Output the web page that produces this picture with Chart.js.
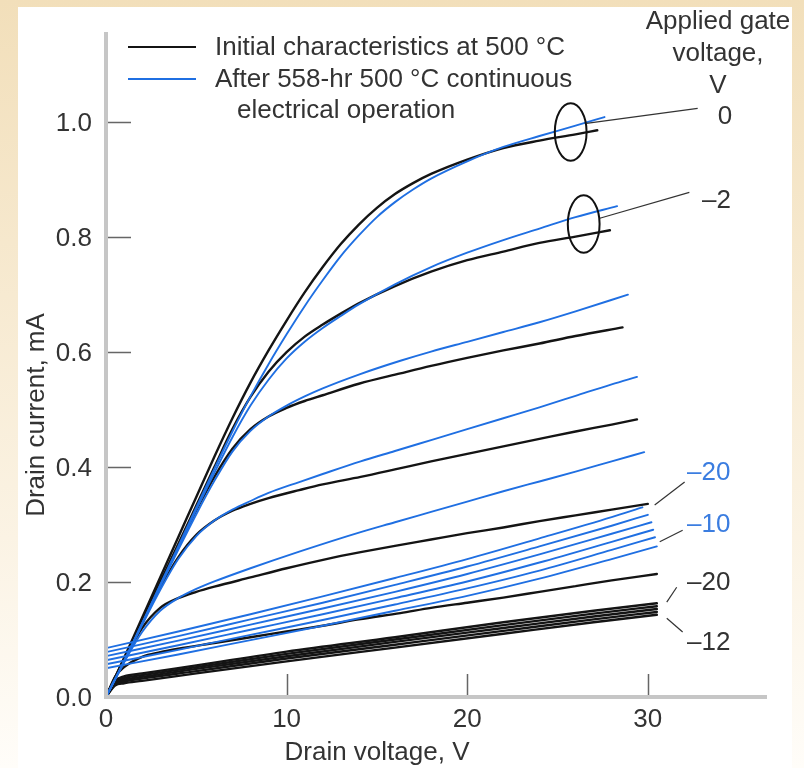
<!DOCTYPE html>
<html>
<head>
<meta charset="utf-8">
<script src="https://cdn.jsdelivr.net/npm/chart.js@4.4.0/dist/chart.umd.min.js"></script>
<style>
  html, body { margin: 0; padding: 0; background: #fff; }
  canvas { display: block; }
</style>
</head>
<body>
<canvas id="ivChart" width="804" height="768"></canvas>
<script>
// axis ticks
var xTicks = [0, 10, 20, 30];
var yTicks = [0, 0.2, 0.4, 0.6, 0.8, 1.0];

// Initial characteristics at 500 C (black) - drain voltage V / drain current mA
var initV0 = [0, 1, 2, 3, 4, 5, 6, 7, 8, 9, 10, 11, 12, 13, 14, 15, 16, 17, 18, 20, 22, 24, 26, 27.2];
var initI0 = [0, 0.068, 0.138, 0.208, 0.278, 0.348, 0.418, 0.485, 0.547, 0.603, 0.655, 0.704, 0.748, 0.788, 0.822, 0.851, 0.875, 0.894, 0.91, 0.935, 0.955, 0.968, 0.979, 0.986];
var initV2 = [0, 1, 2, 3, 4, 5, 6, 7, 8, 9, 10, 11, 12, 13, 14, 16, 18, 20, 22, 24, 26, 27.9];
var initI2 = [0, 0.066, 0.134, 0.2, 0.266, 0.333, 0.4, 0.466, 0.522, 0.566, 0.6, 0.627, 0.648, 0.667, 0.685, 0.715, 0.74, 0.76, 0.775, 0.79, 0.801, 0.812];
var initV4 = [0, 1, 2, 3, 4, 5, 6, 7, 8, 9, 10, 11, 12, 14, 16.3, 18, 20, 22, 24, 26, 28.6];
var initI4 = [0, 0.066, 0.132, 0.198, 0.262, 0.325, 0.383, 0.432, 0.466, 0.488, 0.503, 0.515, 0.525, 0.545, 0.563, 0.576, 0.59, 0.603, 0.615, 0.628, 0.643];
var initV6 = [0, 1, 2, 3, 4, 5, 6, 7, 8, 9, 10.7, 12, 14.1, 16, 18, 20, 22, 24, 26, 28, 29.4];
var initI6 = [0, 0.065, 0.13, 0.19, 0.243, 0.282, 0.307, 0.324, 0.336, 0.346, 0.36, 0.37, 0.383, 0.396, 0.41, 0.423, 0.436, 0.449, 0.462, 0.474, 0.483];
var initV8 = [0, 1, 2, 3, 4, 5, 6, 8, 10, 12.2, 14.1, 16, 18, 20, 22, 24, 26, 28, 30];
var initI8 = [0, 0.064, 0.12, 0.155, 0.172, 0.183, 0.192, 0.208, 0.224, 0.24, 0.252, 0.263, 0.274, 0.285, 0.295, 0.306, 0.316, 0.326, 0.336];
var initV10 = [0, 0.5, 1, 2, 3, 4, 6, 8, 10, 12, 14, 16.3, 18, 20, 22, 24, 26, 28, 30.5];
var initI10 = [0, 0.035, 0.052, 0.07, 0.078, 0.084, 0.094, 0.104, 0.114, 0.124, 0.135, 0.146, 0.155, 0.164, 0.173, 0.183, 0.193, 0.203, 0.214];
var lowV = [0, 0.5, 1, 2, 5, 10, 16, 22, 27, 30.5];
var initI12 = [0, 0.02, 0.024, 0.028, 0.041, 0.062, 0.086, 0.11, 0.13, 0.143];
var initI14 = [0, 0.022, 0.027, 0.032, 0.045, 0.067, 0.091, 0.115, 0.135, 0.148];
var initI16 = [0, 0.024, 0.03, 0.035, 0.049, 0.071, 0.096, 0.12, 0.14, 0.153];
var initI18 = [0, 0.026, 0.033, 0.038, 0.052, 0.075, 0.1, 0.125, 0.145, 0.158];
var initI20 = [0, 0.028, 0.036, 0.041, 0.055, 0.079, 0.104, 0.13, 0.15, 0.163];

// After 558-hr continuous operation (blue)
var postV0 = [0, 1, 2, 3, 4, 5, 6, 7, 8, 9, 10, 11, 12, 13, 14, 15, 16, 17, 18, 20, 22, 24, 26, 27.6];
var postI0 = [0, 0.062, 0.128, 0.195, 0.262, 0.33, 0.397, 0.462, 0.523, 0.579, 0.631, 0.68, 0.725, 0.767, 0.803, 0.835, 0.861, 0.883, 0.902, 0.932, 0.957, 0.976, 0.994, 1.009];
var postV2 = [0, 1, 2, 3, 4, 5, 6, 7, 8, 9, 10, 11, 12, 13, 14, 16, 18, 20, 22, 24, 26, 28.3];
var postI2 = [0, 0.062, 0.128, 0.194, 0.26, 0.326, 0.39, 0.452, 0.507, 0.552, 0.589, 0.618, 0.642, 0.663, 0.683, 0.718, 0.748, 0.773, 0.795, 0.815, 0.835, 0.854];
var postV4 = [0, 1, 2, 3, 4, 5, 6, 7, 8, 9, 10, 11, 12, 14, 16.3, 18, 20, 22, 24, 26, 28.9];
var postI4 = [0, 0.062, 0.127, 0.192, 0.256, 0.318, 0.376, 0.427, 0.463, 0.488, 0.507, 0.523, 0.537, 0.561, 0.585, 0.601, 0.618, 0.635, 0.652, 0.671, 0.7];
var postV6 = [0, 1, 2, 3, 4, 5, 6, 7, 8, 9, 10.7, 12, 14.1, 16, 18, 20, 22, 24, 26, 28, 29.4];
var postI6 = [0, 0.061, 0.125, 0.186, 0.24, 0.28, 0.307, 0.326, 0.341, 0.355, 0.374, 0.388, 0.41, 0.428, 0.447, 0.466, 0.485, 0.504, 0.524, 0.544, 0.557];
var postV8 = [0, 1, 2, 3, 4, 5, 6, 8, 10.7, 14.1, 16, 18, 20, 22, 24, 26, 28, 29.8];
var postI8 = [0, 0.06, 0.113, 0.15, 0.172, 0.188, 0.201, 0.224, 0.253, 0.287, 0.304, 0.322, 0.34, 0.358, 0.375, 0.392, 0.41, 0.426];
var postV20 = [0, 4, 8, 12, 16, 20, 24, 28, 29.7];
var postI20 = [0.085, 0.114, 0.144, 0.175, 0.207, 0.24, 0.276, 0.313, 0.33];
var postV18 = [0, 4, 8, 12, 16, 20, 24, 28, 30];
var postI18 = [0.078, 0.106, 0.135, 0.164, 0.195, 0.227, 0.262, 0.298, 0.317];
var postV16 = [0, 4, 8, 12, 16, 20, 24, 28, 30.2];
var postI16 = [0.071, 0.098, 0.126, 0.154, 0.183, 0.214, 0.248, 0.284, 0.304];
var postV14 = [0, 4, 8, 12, 16, 20, 24, 28, 30.3];
var postI14 = [0.064, 0.09, 0.117, 0.144, 0.172, 0.201, 0.234, 0.27, 0.291];
var postV12 = [0, 4, 8, 12, 16, 20, 24, 28, 30.4];
var postI12 = [0.057, 0.082, 0.108, 0.134, 0.161, 0.189, 0.22, 0.256, 0.278];
var postV10 = [0, 4, 8, 12, 16, 20, 24, 28, 30.5];
var postI10 = [0.05, 0.074, 0.099, 0.124, 0.15, 0.176, 0.206, 0.24, 0.262];

var BLACK = '#141414';
var BLUE = '#1f6fe2';
var TEXT = '#333333';
var FONT = '"Liberation Sans", Arial, sans-serif';

function pts(vs, is) {
  return vs.map(function (v, k) { return { x: v, y: is[k] }; });
}
function curve(vs, is, color, order) {
  return {
    data: pts(vs, is),
    borderColor: color,
    borderWidth: color === BLUE ? 1.9 : 2.4,
    pointRadius: 0,
    showLine: true,
    fill: false,
    cubicInterpolationMode: 'monotone',
    order: order
  };
}

var datasets = [
  curve(initV0, initI0, BLACK, 2), curve(initV2, initI2, BLACK, 2),
  curve(initV4, initI4, BLACK, 2), curve(initV6, initI6, BLACK, 2),
  curve(initV8, initI8, BLACK, 2), curve(initV10, initI10, BLACK, 2),
  curve(lowV, initI12, BLACK, 2), curve(lowV, initI14, BLACK, 2),
  curve(lowV, initI16, BLACK, 2), curve(lowV, initI18, BLACK, 2),
  curve(lowV, initI20, BLACK, 2),
  curve(postV0, postI0, BLUE, 1), curve(postV2, postI2, BLUE, 1),
  curve(postV4, postI4, BLUE, 1), curve(postV6, postI6, BLUE, 1),
  curve(postV8, postI8, BLUE, 1), curve(postV10, postI10, BLUE, 1),
  curve(postV12, postI12, BLUE, 1), curve(postV14, postI14, BLUE, 1),
  curve(postV16, postI16, BLUE, 1), curve(postV18, postI18, BLUE, 1),
  curve(postV20, postI20, BLUE, 1)
];

// annotation pointers, in data units [v1, i1, v2, i2]
var leaders = [
  [26.6, 0.998, 32.76, 1.024],
  [27.34, 0.833, 32.3, 0.878],
  [30.38, 0.334, 32.04, 0.374],
  [30.66, 0.27, 31.93, 0.29],
  [31.05, 0.165, 31.6, 0.191],
  [31.05, 0.137, 31.93, 0.113]
];
// ellipses [v, i, rv, ri]
var rings = [
  [25.73, 0.983, 0.88, 0.05],
  [26.45, 0.823, 0.88, 0.05]
];

var decor = {
  id: 'decor',
  beforeDraw: function (chart) {
    var c = chart.ctx, w = chart.width, h = chart.height;
    var g = c.createLinearGradient(0, 0, 0, h);
    g.addColorStop(0, '#f2dfba');
    g.addColorStop(0.7, '#fbf3e4');
    g.addColorStop(1, '#fffdf9');
    c.save();
    c.fillStyle = g;
    c.fillRect(0, 0, w, h);
    c.fillStyle = '#ffffff';
    c.fillRect(18, 7, 774, h - 7);
    c.restore();
  },
  afterDraw: function (chart) {
    var c = chart.ctx;
    var xs = chart.scales.x, ys = chart.scales.y;
    var a = chart.chartArea;
    c.save();
    // axes
    c.strokeStyle = '#c6c6c6';
    c.lineWidth = 4;
    c.beginPath();
    c.moveTo(a.left, a.top);
    c.lineTo(a.left, a.bottom);
    c.lineTo(a.right, a.bottom);
    c.stroke();
    // inward ticks
    c.strokeStyle = '#666';
    c.lineWidth = 1.5;
    c.beginPath();
    yTicks.forEach(function (t) {
      if (t === 0) return;
      var y = Math.round(ys.getPixelForValue(t)) + 0.5;
      c.moveTo(a.left + 2, y);
      c.lineTo(a.left + 25, y);
    });
    xTicks.forEach(function (t) {
      if (t === 0) return;
      var x = Math.round(xs.getPixelForValue(t)) + 0.5;
      c.moveTo(x, a.bottom - 2);
      c.lineTo(x, a.bottom - 23);
    });
    c.stroke();

    c.fillStyle = TEXT;
    c.font = '26px ' + FONT;
    c.textAlign = 'right';
    c.textBaseline = 'middle';
    yTicks.forEach(function (t) {
      c.fillText(t.toFixed(1), a.left - 14, ys.getPixelForValue(t) + 2);
    });
    c.textAlign = 'center';
    xTicks.forEach(function (t) {
      c.fillText(String(t), xs.getPixelForValue(t), a.bottom + 23);
    });
    c.fillText('Drain voltage, V', 377, 753);
    c.save();
    c.translate(37, 415);
    c.rotate(-Math.PI / 2);
    c.fillText('Drain current, mA', 0, 0);
    c.restore();

    // legend
    c.lineWidth = 2;
    c.strokeStyle = BLACK;
    c.beginPath(); c.moveTo(128, 47); c.lineTo(196, 47); c.stroke();
    c.strokeStyle = BLUE;
    c.beginPath(); c.moveTo(128, 79); c.lineTo(196, 79); c.stroke();
    c.textAlign = 'left';
    c.fillText('Initial characteristics at 500 \u00b0C', 215, 48);
    c.fillText('After 558-hr 500 \u00b0C continuous', 215, 80);
    c.fillText('electrical operation', 237, 111);

    // gate voltage labels
    c.textAlign = 'center';
    c.fillText('Applied gate', 718, 22);
    c.fillText('voltage,', 718, 54);
    c.fillText('V', 718, 86);
    c.fillText('0', 725, 117);
    c.textAlign = 'left';
    c.fillText('\u20132', 702, 201);
    c.fillText('\u201320', 687, 583);
    c.fillText('\u201312', 687, 643);
    c.fillStyle = '#3b7de0';
    c.fillText('\u201320', 687, 473);
    c.fillText('\u201310', 687, 525);

    // pointers and rings
    c.strokeStyle = '#333';
    c.lineWidth = 1.2;
    leaders.forEach(function (l) {
      c.beginPath();
      c.moveTo(xs.getPixelForValue(l[0]), ys.getPixelForValue(l[1]));
      c.lineTo(xs.getPixelForValue(l[2]), ys.getPixelForValue(l[3]));
      c.stroke();
    });
    c.strokeStyle = '#111';
    c.lineWidth = 2;
    rings.forEach(function (r) {
      var cx = xs.getPixelForValue(r[0]), cy = ys.getPixelForValue(r[1]);
      var rx = xs.getPixelForValue(r[0] + r[2]) - cx;
      var ry = cy - ys.getPixelForValue(r[1] + r[3]);
      c.beginPath();
      c.ellipse(cx, cy, rx, ry, 0, 0, Math.PI * 2);
      c.stroke();
    });
    c.restore();
  }
};

var ctx = document.getElementById('ivChart').getContext('2d');
var chart = new Chart(ctx, {
  type: 'scatter',
  data: { datasets: datasets },
  options: {
    responsive: false,
    animation: false,
    devicePixelRatio: 1,
    layout: { padding: { left: 106, top: 32, right: 37, bottom: 71 } },
    plugins: { legend: { display: false }, tooltip: { enabled: false } },
    elements: { line: { borderCapStyle: 'round' } },
    scales: {
      x: { type: 'linear', min: 0, max: 36.6, display: false },
      y: { type: 'linear', min: 0, max: 1.157, display: false }
    }
  },
  plugins: [decor]
});
</script>
</body>
</html>
